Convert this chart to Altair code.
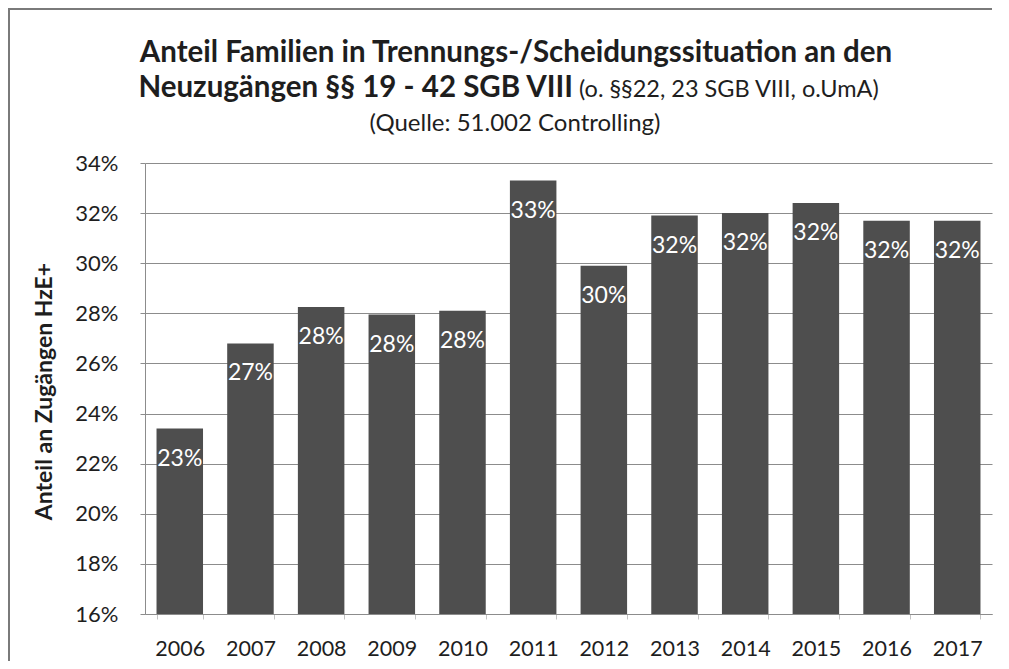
import altair as alt
import pandas as pd

# ---- data ----
years = ["2006", "2007", "2008", "2009", "2010", "2011",
         "2012", "2013", "2014", "2015", "2016", "2017"]
shares = [0.234, 0.268, 0.2825, 0.2795, 0.281, 0.333,
          0.299, 0.319, 0.320, 0.324, 0.317, 0.317]
y_ticks = [0.16, 0.18, 0.20, 0.22, 0.24, 0.26, 0.28, 0.30, 0.32, 0.34]

title_line1 = "Anteil Familien in Trennungs-/Scheidungssituation an den"
title_line2_bold = "Neuzugängen §§ 19 - 42 SGB VIII"
title_line2_norm = "(o. §§22, 23 SGB VIII, o.UmA)"
title_line3 = "(Quelle: 51.002 Controlling)"
y_title = "Anteil an Zugängen HzE+"

FONT = "Lato"
TXT = "#1e1e1e"
BAR = "#4e4e4e"
GRID = "#8c8c8c"
FRAME = "#7a7a7a"

df = pd.DataFrame({"year": years, "share": shares})
base = alt.Chart(df)

x_enc = alt.X(
    "year:N",
    sort=years,
    scale=alt.Scale(paddingInner=0.342, paddingOuter=0.163),
    axis=alt.Axis(
        title=None, labelAngle=0, labelFont=FONT, labelFontSize=21.5,
        labelColor=TXT, labelPadding=19, domainColor=GRID, domainWidth=1,
        tickColor="#c4c4c4", tickSize=5, tickBand="extent", grid=False,
    ),
)
y_enc = alt.Y(
    "share:Q",
    scale=alt.Scale(domain=[0.16, 0.34], nice=False, zero=False),
    axis=alt.Axis(
        values=y_ticks, format=".0%", labelFont=FONT, labelFontSize=22,
        labelColor=TXT, labelPadding=22, tickSize=5, tickColor=GRID,
        domainColor=GRID, grid=True, gridColor=GRID, gridWidth=1,
        title=y_title, titleFont=FONT, titleFontSize=23, titleFontWeight="bold",
        titleColor=TXT, titleX=-101, titleY=228, titleAlign="center",
        titleBaseline="middle", labelOverlap=False,
    ),
)

bars = base.mark_bar(color=BAR, clip=True).encode(x=x_enc, y=y_enc)

labels = base.mark_text(
    color="white", font=FONT, fontSize=23, baseline="alphabetic", dy=37,
).encode(
    x=alt.X("year:N", sort=years),
    y=alt.Y("share:Q"),
    text=alt.Text("share:Q", format=".0%"),
)


def text_mark(txt, x, y, size, weight="normal", align="center"):
    return alt.Chart(pd.DataFrame({"t": [txt]})).mark_text(
        font=FONT, fontSize=size, fontWeight=weight, color=TXT,
        align=align, baseline="alphabetic",
    ).encode(text="t:N", x=alt.value(x), y=alt.value(y))


t1 = text_mark(title_line1, 371, -101, 29.5, "bold")
t2a = text_mark(title_line2_bold, 428, -66, 29.5, "bold", "right")
t2b = text_mark(title_line2_norm, 434, -66, 23.5, "normal", "left")
t3 = text_mark(title_line3, 370, -32, 24)

# outer frame of the original figure: top and left edges as thin filled bands
frame_df = pd.DataFrame({"k": [0]})
frame_top = alt.Chart(frame_df).mark_rect(fill=FRAME, strokeWidth=0).encode(
    x=alt.value(-137), x2=alt.value(847), y=alt.value(-155), y2=alt.value(-153)
)
frame_left = alt.Chart(frame_df).mark_rect(fill=FRAME, strokeWidth=0).encode(
    x=alt.value(-137), x2=alt.value(-135), y=alt.value(-155), y2=alt.value(498)
)

chart = alt.layer(
    frame_top, frame_left, bars, labels, t1, t2a, t2b, t3
).properties(
    width=847, height=451,
    autosize=alt.AutoSizeParams(type="none"),
    padding={"left": 137, "top": 155, "right": 8, "bottom": 47},
    background="white",
).configure_view(stroke=None)

chart.save("out.html", embed_options={"renderer": "svg", "actions": False})
